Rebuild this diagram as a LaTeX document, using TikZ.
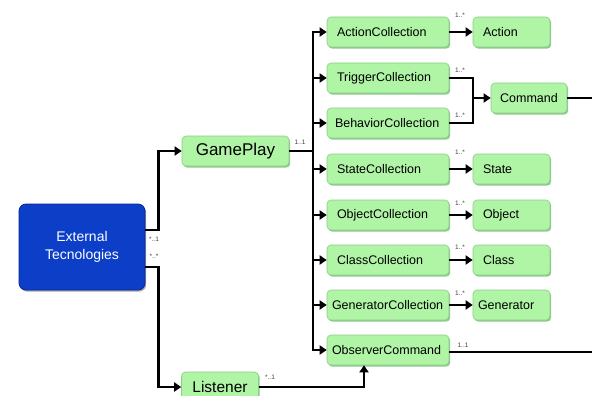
\documentclass[tikz,border=0pt]{standalone}
\usepackage{fontspec}
\setmainfont{Liberation Sans}
\usetikzlibrary{arrows.meta,shadows}
\definecolor{boxgreen}{RGB}{176,244,166}
\definecolor{boxgreenedge}{RGB}{140,205,135}
\definecolor{extblue}{RGB}{12,62,200}
\definecolor{extblueedge}{RGB}{5,40,150}
\tikzset{
  gbox/.style={draw=boxgreenedge, line width=0.6pt, fill=boxgreen, rounded corners=4pt,
    minimum height=30pt, inner ysep=0pt, font=\fontsize{12.5}{14}\selectfont,
    drop shadow={shadow xshift=1.2pt, shadow yshift=-1.6pt, fill=black!45!green, opacity=0.45}},
  collbox/.style={gbox, minimum width=122pt, inner xsep=10pt, text width=102pt, align=left},
  collboxw/.style={gbox, minimum width=122pt, inner xsep=5pt, text width=112pt, align=left},
  itembox/.style={gbox, minimum width=77pt, inner xsep=10pt, text width=57pt, align=left},
  ln/.style={line width=2.2pt, line join=miter},
  arr/.style={ln, -{Triangle[length=7pt,width=9pt]}},
  mult/.style={font=\fontsize{6.5}{7}\selectfont, inner sep=0pt, text=black!75}
}
\begin{document}
\begin{tikzpicture}[x=1pt,y=-1pt]
\useasboundingbox (0,0) rectangle (592,396);
\fill[white] (0,0) rectangle (592,396);
\begin{scope}
\clip (0,0) rectangle (592,396);
% main nodes
\node[draw=extblueedge, line width=0.8pt, fill=extblue, rounded corners=7pt, minimum width=126pt, minimum height=86pt,
      text=white, align=center, font=\fontsize{14}{18}\selectfont,
      drop shadow={shadow xshift=1.2pt, shadow yshift=-1.6pt, fill=black, opacity=0.35}] (ext) at (82,247) {External\\Tecnologies};
\node[gbox, minimum width=107pt, inner xsep=0pt, font=\fontsize{17}{19}\selectfont] (gp) at (235.5,151) {GamePlay};
\node[gbox, minimum width=77pt, inner xsep=0pt, font=\fontsize{15.5}{18}\selectfont] (lis) at (220,387) {Listener};
% collections
\node[collbox] (ac) at (388,32) {ActionCollection};
\node[collbox] (tc) at (388,78) {TriggerCollection};
\node[collbox, inner xsep=8pt, text width=106pt] (bc) at (388,123) {BehaviorCollection};
\node[collbox] (sc) at (388,169) {StateCollection};
\node[collbox] (objc) at (388,215) {ObjectCollection};
\node[collbox] (cc) at (388,260) {ClassCollection};
\node[collboxw] (genc) at (388,305) {GeneratorCollection};
\node[collboxw] (oc) at (388,350) {ObserverCommand};
% items
\node[itembox] (act) at (511.5,32) {Action};
\node[gbox, minimum width=76pt, inner xsep=0pt] (cmd) at (529,98) {Command};
\node[itembox] (st) at (511.5,169) {State};
\node[itembox] (obj) at (511.5,215) {Object};
\node[itembox] (cls) at (511.5,260) {Class};
\node[itembox, inner xsep=5pt, text width=67pt] (gen) at (511.5,305) {Generator};
% coordinates
\coordinate (trunk) at (313,151);
\coordinate (j) at (473,78);
\coordinate (edge) at (592,98);
% connectors from External
\draw[arr] ([yshift=17pt]ext.east) -- ++(13,0) |- (gp.west);
\draw[arr] ([yshift=-20pt]ext.east) -- ++(13,0) |- (lis.west);
% GamePlay trunk
\draw[ln] (gp.east) -- (trunk);
\draw[arr] (trunk) |- (ac.west);
\draw[arr] (trunk) |- (oc.west);
\draw[arr] (trunk |- tc.west) -- (tc.west);
\draw[arr] (trunk |- bc.west) -- (bc.west);
\draw[arr] (trunk |- sc.west) -- (sc.west);
\draw[arr] (trunk |- objc.west) -- (objc.west);
\draw[arr] (trunk |- cc.west) -- (cc.west);
\draw[arr] (trunk |- genc.west) -- (genc.west);
% collections to items
\draw[arr] (ac.east) -- (act.west);
\draw[arr] (sc.east) -- (st.west);
\draw[arr] (objc.east) -- (obj.west);
\draw[arr] (cc.east) -- (cls.west);
\draw[arr] (genc.east) -- (gen.west);
\draw[ln] (tc.east) -- (j) -- (j |- bc.east) -- (bc.east);
\draw[arr] (j |- cmd.west) -- (cmd.west);
% outgoing lines
\draw[ln] (cmd.east) -- (edge);
\draw[ln] ([yshift=-2pt]oc.east) -- ([yshift=-2pt]oc.east -| edge);
% listener to observer
\draw[arr] (lis.east) -| ([xshift=-24pt]oc.south);
\end{scope}
% multiplicities
\node[mult] (m1) at (300,142) {1..1};
\node[mult] (m2) at (154,239) {*..1};
\node[mult] (m3) at (154,256) {*..*};
\node[mult] (m4) at (270,377) {*..1};
\node[mult] (m5) at (460,15) {1..*};
\node[mult] (m6) at (460,70) {1..*};
\node[mult] (m7) at (460,115) {1..*};
\node[mult] (m8) at (460,152) {1..*};
\node[mult] (m9) at (460,203) {1..*};
\node[mult] (m10) at (460,247) {1..*};
\node[mult] (m11) at (460,293) {1..*};
\node[mult] (m12) at (463,345) {1..1};
\end{tikzpicture}
\end{document}
